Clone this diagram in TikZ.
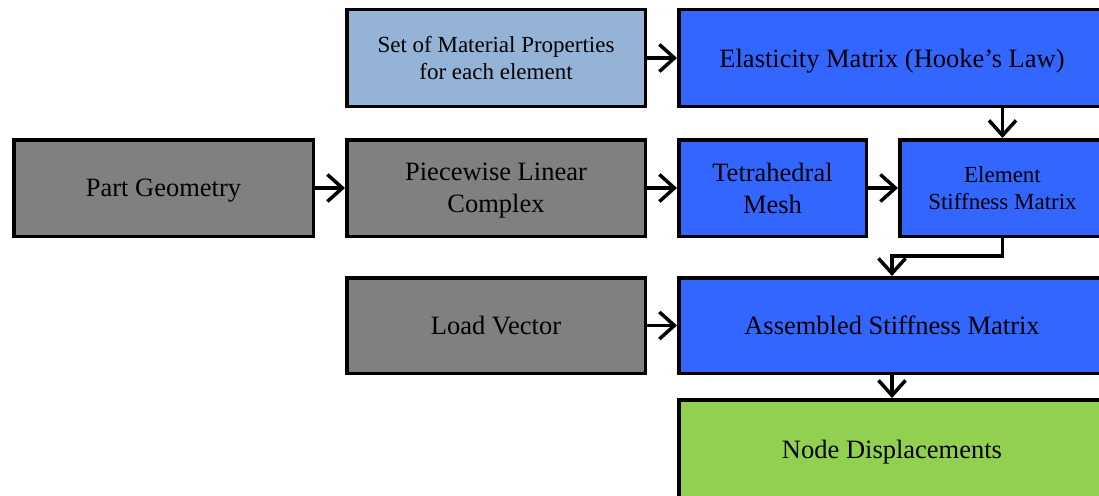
\documentclass[tikz,border=0pt]{standalone}
\usepackage{fontspec}
\setmainfont{Liberation Serif}
\usetikzlibrary{arrows.meta}
\definecolor{lblue}{HTML}{95B3D7}
\definecolor{fblue}{HTML}{3366FF}
\definecolor{fgray}{HTML}{808080}
\definecolor{fgreen}{HTML}{92D050}
\begin{document}
\begin{tikzpicture}[x=1pt,y=-1pt,
  box/.style={draw=black,line width=3.5pt,rectangle,inner sep=0pt,align=center,text depth=0pt,
    font=\fontsize{26.5}{32}\selectfont},
  smallbox/.style={box,font=\fontsize{23}{27}\selectfont},
  arr/.style={draw=black,line width=3.5pt,-{Straight Barb[length=15pt,width=27pt]}}]
\useasboundingbox (0,0) rectangle (1099,495);
\clip (0,0) rectangle (1099,495);
\node[smallbox,fill=lblue,minimum width=298.5pt,minimum height=96.5pt] (mat) at (496,58) {Set of Material Properties\\for each element};
\node[box,fill=fblue,minimum width=426.5pt,minimum height=96.5pt] (ela) at (892,58) {Elasticity Matrix (Hooke’s Law)};
\node[box,fill=fgray,minimum width=299.5pt,minimum height=96.5pt] (part) at (163.5,188) {Part Geometry};
\node[box,fill=fgray,minimum width=298.5pt,minimum height=96.5pt] (pw) at (496,188) {Piecewise Linear\\Complex};
\node[box,fill=fblue,minimum width=187.5pt,minimum height=96.5pt] (tet) at (772.5,188) {Tetrahedral\\Mesh};
\node[smallbox,fill=fblue,minimum width=205.5pt,minimum height=96.5pt] (elem) at (1002.5,188) {Element\\Stiffness Matrix};
\node[box,fill=fgray,minimum width=298.5pt,minimum height=95.5pt] (load) at (496,325.5) {Load Vector};
\node[box,fill=fblue,minimum width=426.5pt,minimum height=95.5pt] (asm) at (892,325.5) {Assembled Stiffness Matrix};
\node[box,fill=fgreen,minimum width=426.5pt,minimum height=98.5pt] (nd) at (892,449) {Node Displacements};
\draw[arr] (mat) -- (ela);
\draw[arr] (ela.south -| elem.north) -- (elem.north);
\draw[arr] (part) -- (pw);
\draw[arr] (pw) -- (tet);
\draw[arr] (tet) -- (elem);
\draw[arr] (elem.south) -- ++(0,18) -| (asm.north);
\draw[arr] (load) -- (asm);
\draw[arr] (asm.south) -- (nd.north);
\end{tikzpicture}
\end{document}
